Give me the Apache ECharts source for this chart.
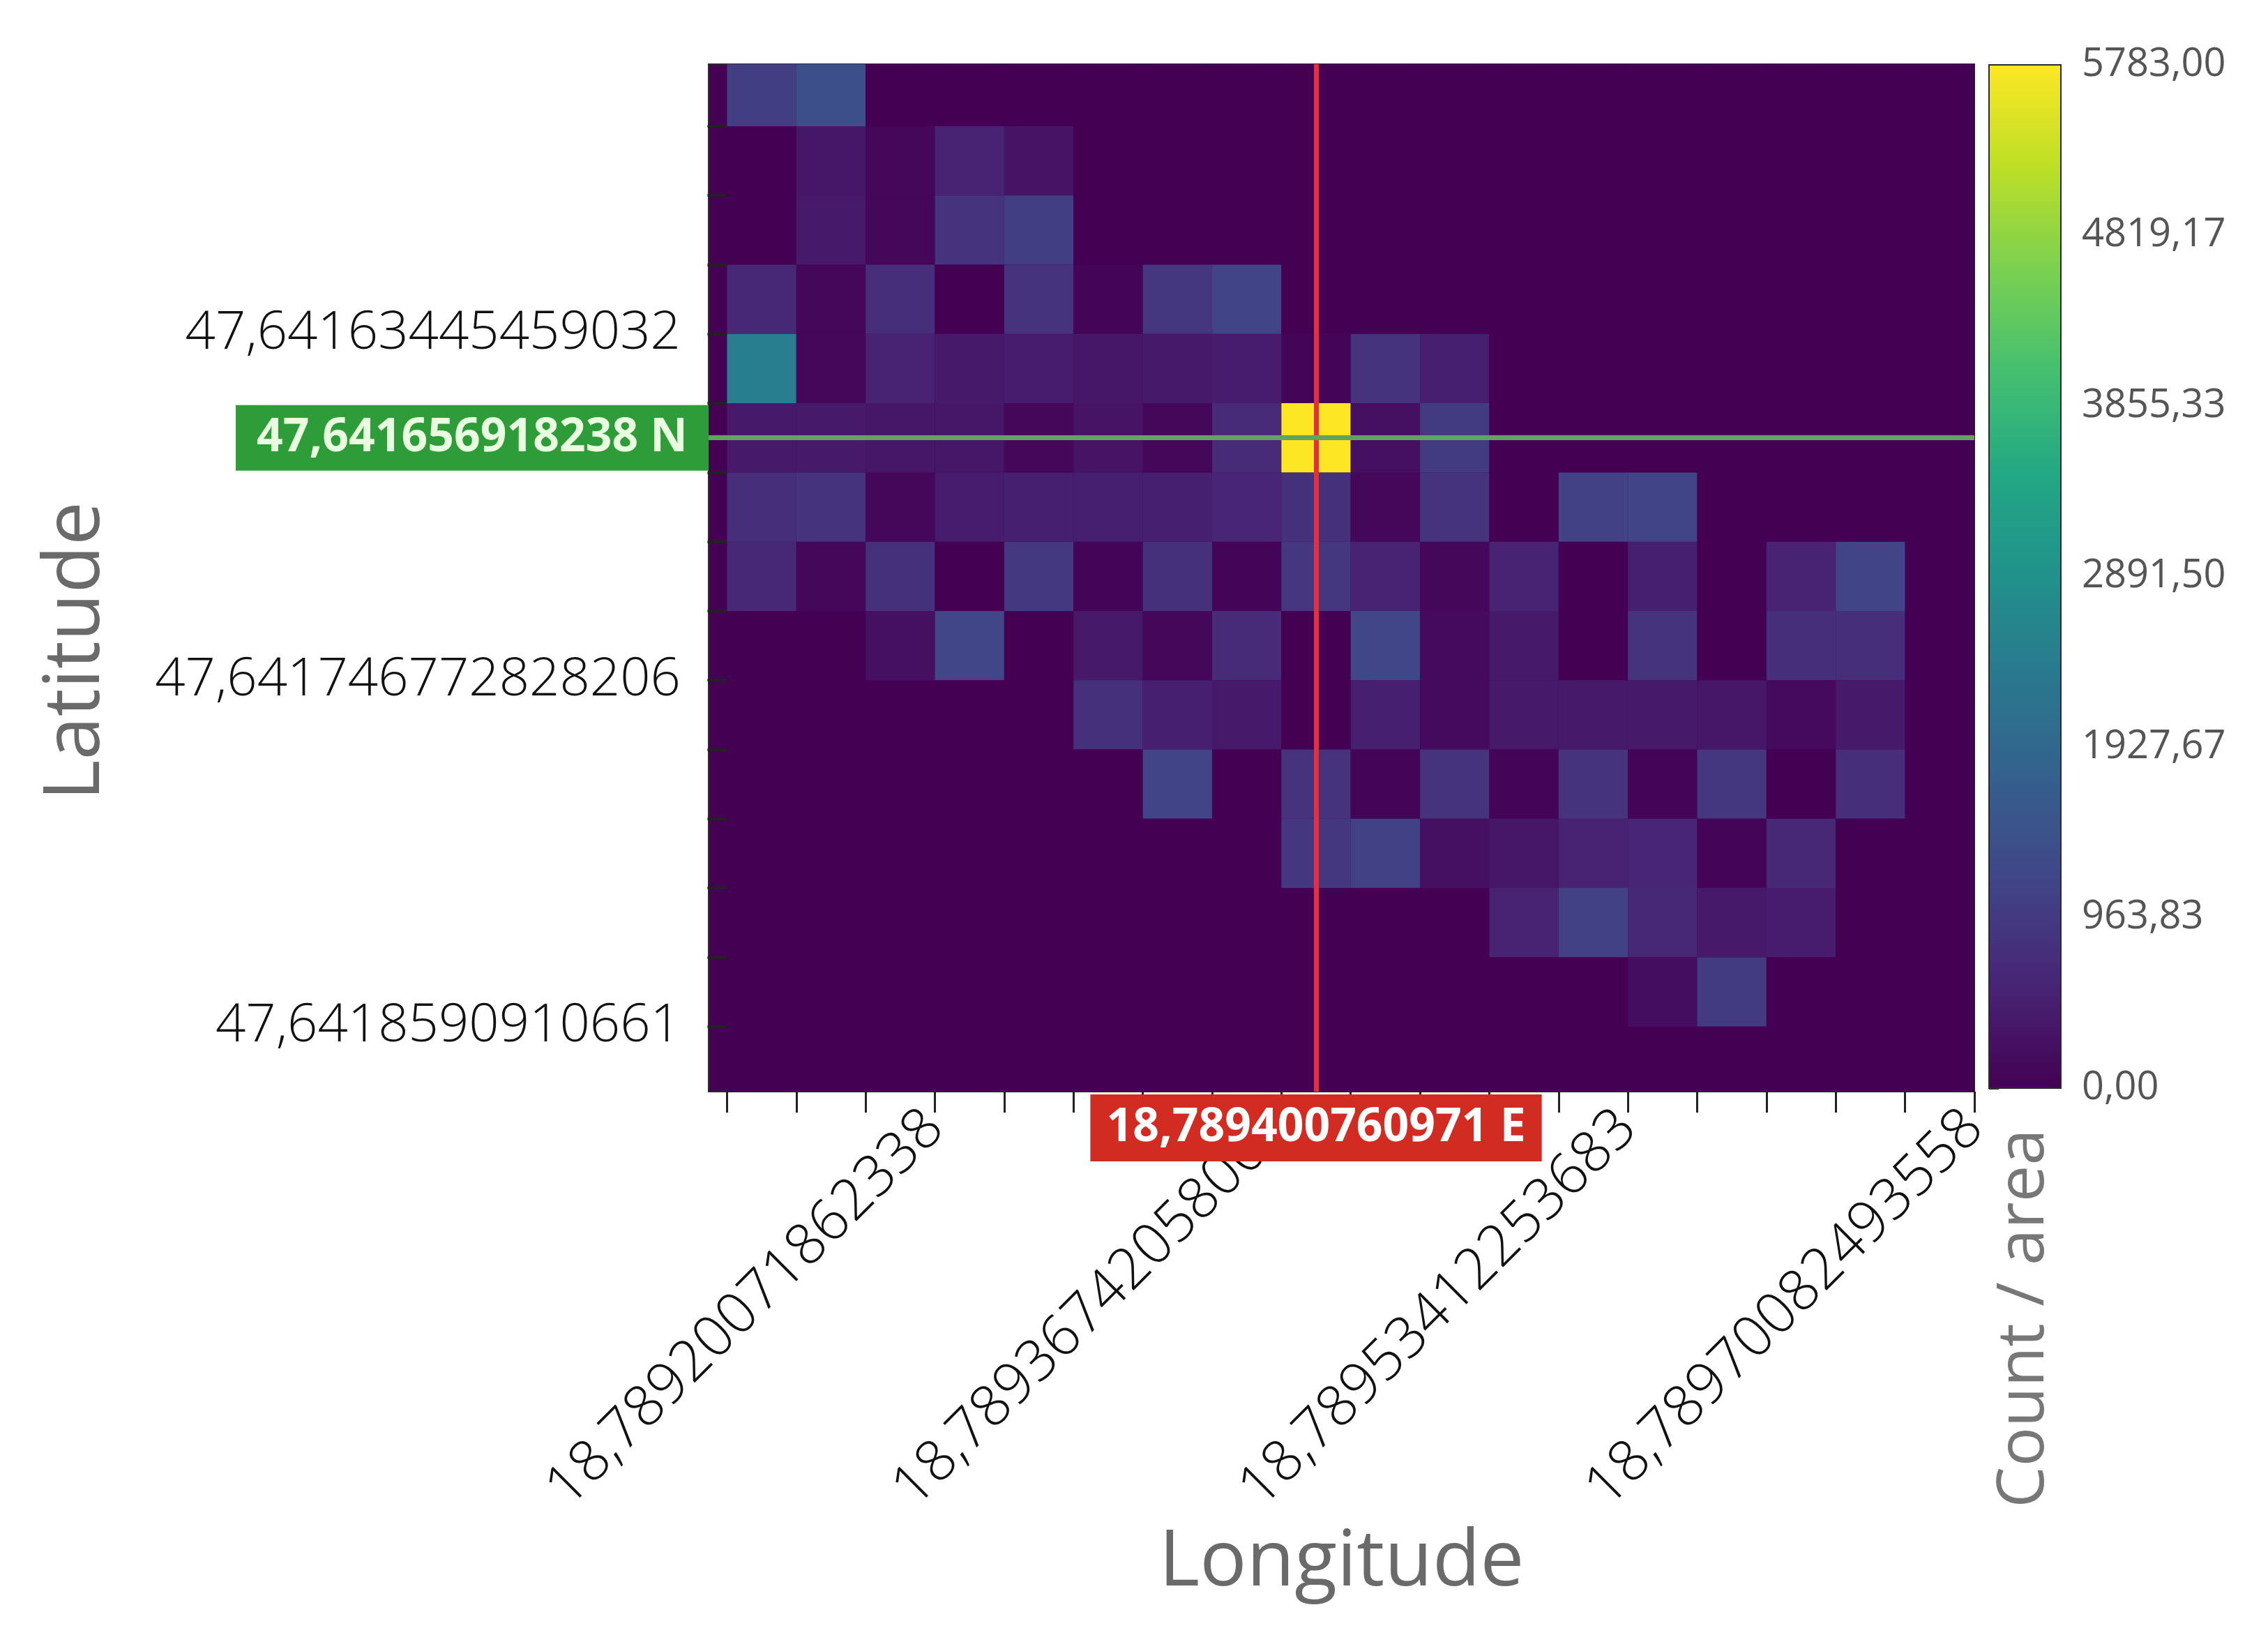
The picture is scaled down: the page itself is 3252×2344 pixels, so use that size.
<!DOCTYPE html>
<html>
<head>
<meta charset="utf-8">
<script src="https://cdn.jsdelivr.net/npm/echarts@6/dist/echarts.min.js"></script>
<style>
  html, body { margin: 0; background: #fff; }
  #chart { width: 3252px; height: 2344px; }
</style>
</head>
<body>
<div id="chart"></div>
<script>
// counts per cell, one array per latitude row (top row first), 18 longitude columns
const row0  = [1050, 1400, 0, 0, 0, 0, 0, 0, 0, 0, 0, 0, 0, 0, 0, 0, 0, 0];
const row1  = [0, 350, 100, 550, 300, 0, 0, 0, 0, 0, 0, 0, 0, 0, 0, 0, 0, 0];
const row2  = [0, 400, 100, 850, 1050, 0, 0, 0, 0, 0, 0, 0, 0, 0, 0, 0, 0, 0];
const row3  = [650, 100, 750, 0, 850, 50, 900, 1150, 0, 0, 0, 0, 0, 0, 0, 0, 0, 0];
const row4  = [2450, 100, 550, 400, 450, 350, 400, 450, 50, 850, 500, 0, 0, 0, 0, 0, 0, 0];
const row5  = [400, 400, 350, 350, 100, 300, 100, 700, 5783, 250, 1000, 0, 0, 0, 0, 0, 0, 0];
const row6  = [750, 850, 100, 450, 500, 500, 500, 600, 800, 100, 850, 0, 1100, 1150, 0, 0, 0, 0];
const row7  = [650, 100, 800, 0, 950, 50, 800, 50, 900, 550, 100, 550, 0, 500, 0, 550, 1150, 0];
const row8  = [0, 0, 250, 1200, 0, 400, 100, 700, 0, 1200, 150, 400, 0, 850, 0, 750, 750, 0];
const row9  = [0, 0, 0, 0, 0, 800, 500, 400, 0, 500, 150, 400, 400, 400, 350, 150, 400, 0];
const row10 = [0, 0, 0, 0, 0, 0, 1150, 0, 850, 50, 850, 50, 850, 50, 900, 0, 750, 0];
const row11 = [0, 0, 0, 0, 0, 0, 0, 0, 900, 1100, 250, 350, 550, 600, 50, 650, 0, 0];
const row12 = [0, 0, 0, 0, 0, 0, 0, 0, 0, 0, 0, 550, 1100, 650, 400, 450, 0, 0];
const row13 = [0, 0, 0, 0, 0, 0, 0, 0, 0, 0, 0, 0, 0, 200, 1000, 0, 0, 0];
const row14 = [0, 0, 0, 0, 0, 0, 0, 0, 0, 0, 0, 0, 0, 0, 0, 0, 0, 0];
const rows = [row0, row1, row2, row3, row4, row5, row6, row7, row8, row9, row10, row11, row12, row13, row14];

// tick labels (positions are cell boundaries)
const lonTickPos = [3, 8, 13, 18];
const lonTickLabels = ['18,78920071862338', '18,78936742058008', '18,78953412253683', '18,78970082493558'];
const latTickPos = [4, 9, 14];
const latTickLabels = ['47,64163445459032', '47,641746772828206', '47,6418590910661'];
const colorTicks = [0, 963.83, 1927.67, 2891.50, 3855.33, 4819.17, 5783.00];

// crosshair texts
const crossLon = '18,789400760971 E';
const crossLat = '47,641656918238 N';

const viridis = ['#440154', '#482475', '#414487', '#355f8d', '#2a788e', '#21918c',
                 '#22a884', '#44bf70', '#7ad151', '#bddf26', '#fde725'];

const cells = [];
let peak = [0, 0, -1];
rows.forEach(function (r, y) {
  r.forEach(function (v, x) {
    cells.push([x, y, v]);
    if (v > peak[2]) peak = [x, y, v];
  });
});

const allCols = [];
for (let i = 0; i <= 18; i++) allCols.push(i);
const allRows = [];
for (let i = 1; i <= 14; i++) allRows.push(i);

const font = '"Open Sans", "Noto Sans", sans-serif';

const chart = echarts.init(document.getElementById('chart'));
chart.setOption({
  animation: false,
  textStyle: { fontFamily: font },
  grid: [
    { left: 1016, top: 92, width: 1815, height: 1473, show: true,
      backgroundColor: '#440154', borderColor: '#2b2b2b', borderWidth: 2 },
    // colorbar frame + its axis
    { left: 2852, top: 93, width: 103, height: 1467, show: true, z: 5,
      backgroundColor: 'rgba(0,0,0,0)', borderColor: '#2b2b2b', borderWidth: 2 }
  ],
  xAxis: [
    {
      type: 'value', gridIndex: 0, min: -0.266, max: 18,
      name: 'Longitude', nameLocation: 'middle', nameGap: 620,
      nameTextStyle: { fontSize: 112, color: '#6a6a6a' },
      axisLine: { show: false },
      splitLine: { show: false },
      axisTick: { customValues: allCols, length: 30, lineStyle: { color: '#222', width: 3 } },
      axisLabel: {
        customValues: lonTickPos, rotate: 45, margin: 40,
        fontSize: 82, fontWeight: 300, color: '#111',
        formatter: function (v) { return lonTickLabels[lonTickPos.indexOf(Math.round(v))] || ''; }
      }
    },
    { type: 'value', gridIndex: 1, show: false, min: 0, max: 1 }
  ],
  yAxis: [
    {
      type: 'value', gridIndex: 0, inverse: true, min: 0.104, max: 14.94,
      name: 'Latitude', nameLocation: 'middle', nameGap: 850,
      nameTextStyle: { fontSize: 112, color: '#6a6a6a', padding: [0, 210, 0, 0] },
      axisLine: { show: false },
      splitLine: { show: false },
      axisTick: { customValues: allRows, length: 28, lineStyle: { color: '#222', width: 4 } },
      axisLabel: {
        customValues: latTickPos, margin: 40,
        fontSize: 76, fontWeight: 300, color: '#111',
        formatter: function (v) { return latTickLabels[latTickPos.indexOf(Math.round(v))] || ''; }
      }
    },
    {
      type: 'value', gridIndex: 1, position: 'right', min: 0, max: 5783,
      axisLine: { show: false },
      splitLine: { show: false },
      axisTick: { customValues: colorTicks, length: 14, lineStyle: { color: '#333', width: 3 } },
      axisLabel: {
        customValues: colorTicks, margin: 30, fontSize: 56, color: '#555',
        formatter: function (v) { return v.toFixed(2).replace('.', ','); }
      }
    }
  ],
  visualMap: {
    type: 'continuous', seriesIndex: 0, dimension: 2,
    min: 0, max: 5783, calculable: false, hoverLink: false,
    orient: 'vertical', left: 2852, top: 93, padding: 0,
    itemWidth: 103, itemHeight: 1467,
    inRange: { color: viridis }
  },
  graphic: [
    {
      type: 'text', x: 2903, y: 1890, rotation: Math.PI / 2,
      style: { text: 'Count / area', fontSize: 94, fontFamily: font, fill: '#777',
               align: 'center', verticalAlign: 'middle' }
    }
  ],
  series: [
    {
      type: 'custom',
      xAxisIndex: 0, yAxisIndex: 0,
      data: cells,
      encode: { x: 0, y: 1 },
      renderItem: function (params, api) {
        const x = api.value(0), y = api.value(1);
        const p0 = api.coord([x, y]);
        const p1 = api.coord([x + 1, y + 1]);
        const shape = echarts.graphic.clipRectByRect({
          x: Math.min(p0[0], p1[0]), y: Math.min(p0[1], p1[1]),
          width: Math.abs(p1[0] - p0[0]), height: Math.abs(p1[1] - p0[1])
        }, {
          x: params.coordSys.x, y: params.coordSys.y,
          width: params.coordSys.width, height: params.coordSys.height
        });
        return shape && { type: 'rect', shape: shape, style: { fill: api.visual('color') } };
      },
      markLine: {
        silent: true,
        symbol: 'none',
        data: [
          {
            xAxis: peak[0] + 0.5,
            lineStyle: { color: '#e3303e', width: 7, type: 'solid' },
            label: { position: 'end', distance: 4, formatter: crossLon, color: '#fff',
                     fontWeight: 'bold', fontSize: 66, backgroundColor: '#d22b22', padding: [15, 23] }
          },
          {
            yAxis: peak[1] + 0.5,
            lineStyle: { color: '#5fa55f', width: 7, type: 'solid' },
            label: { position: 'start', distance: 0, formatter: crossLat, color: '#e8ffe0',
                     fontWeight: 'bold', fontSize: 66, backgroundColor: '#2e9c38', padding: [14, 30] }
          }
        ]
      }
    }
  ]
});
</script>
</body>
</html>
